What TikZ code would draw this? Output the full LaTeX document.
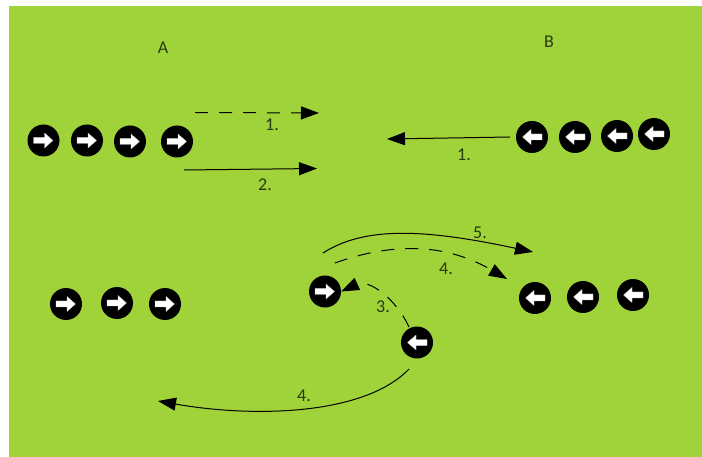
\documentclass[tikz,border=0pt]{standalone}
\usepackage{fontspec}
\setmainfont{Carlito}
\usetikzlibrary{arrows.meta}
\definecolor{field}{HTML}{A0D239}
\definecolor{labelc}{HTML}{2A3A10}
\tikzset{
  x=1pt,y=-1pt,
  playerbase/.style={circle,fill=black,minimum size=32pt,inner sep=0pt,outer sep=0pt},
  playerR/.style={playerbase,path picture={
    \fill[white,draw=white!75!black,line width=.3pt] ([shift={(-10pt,-3pt)}]path picture bounding box.center) -- ++(11pt,0) -- ++(0,-4.5pt) -- ++(8.5pt,7.5pt) -- ++(-8.5pt,7.5pt) -- ++(0,-4.5pt) -- ++(-11pt,0) -- cycle;}},
  playerL/.style={playerbase,path picture={
    \fill[white,draw=white!75!black,line width=.3pt] ([shift={(10pt,-3pt)}]path picture bounding box.center) -- ++(-11pt,0) -- ++(0,-4.5pt) -- ++(-8.5pt,7.5pt) -- ++(8.5pt,7.5pt) -- ++(0,-4.5pt) -- ++(11pt,0) -- cycle;}},
  run/.style={line width=1pt,black,-{Triangle[length=18pt,width=13pt]}},
  pass/.style={run,dash pattern=on 13pt off 11pt},
  lbl/.style={text=labelc,font=\fontsize{18pt}{20pt}\selectfont,inner sep=0pt},
}
\begin{document}
\begin{tikzpicture}
\useasboundingbox (0,0) rectangle (702,457);
\fill[white] (0,0) rectangle (702,457);
\fill[field] (9,6) rectangle (702,457);

\node[lbl] (teamA) at (163,48) {A};
\node[lbl] (teamB) at (549,42) {B};

\node[playerR] (a1) at (43.5,140.5) {};
\node[playerR] (a2) at (87,140.5) {};
\node[playerR] (a3) at (130,141.5) {};
\node[playerR] (a4) at (177,141.5) {};
\node[playerL] (b1) at (532,137) {};
\node[playerL] (b2) at (575,137) {};
\node[playerL] (b3) at (617,136) {};
\node[playerL] (b4) at (654,134) {};
\node[playerR] (c1) at (66,304) {};
\node[playerR] (c2) at (117,303) {};
\node[playerR] (c3) at (165,304) {};
\node[playerR] (c4) at (325,291.5) {};
\node[playerL] (d0) at (417,342.5) {};
\node[playerL] (d1) at (535,298) {};
\node[playerL] (d2) at (583,297) {};
\node[playerL] (d3) at (633,295) {};

\coordinate (p1s) at (195,112.5);
\coordinate (p1e) at (319,113);
\coordinate (p2s) at (184,170);
\coordinate (p2e) at (317,168.5);
\coordinate (p3s) at (510,137);
\coordinate (p3e) at (387,139);
\coordinate (p5s) at (323,253);
\coordinate (p5e) at (533,252);
\coordinate (p4s) at (335,263);
\coordinate (p4e) at (507,279);
\coordinate (p6s) at (409,369);
\coordinate (p6e) at (158,401);
\coordinate (p3b) at (409,327);

\draw[pass] (p1s) -- (p1e);
\draw[run] (p2s) -- (p2e);
\draw[run] (p3s) -- (p3e);
\draw[run] (p5s) .. controls (365,226) and (425,229) .. (p5e);
\draw[pass] (p4s) .. controls (385,245) and (440,240) .. (p4e);
\draw[pass] (p3b) .. controls (395,297) and (368,279) .. (c4.east);
\draw[run] (p6s) .. controls (365,415) and (255,418) .. (p6e);

\node[lbl] (l1) at (272,125) {1.};
\node[lbl] (l2) at (265,185) {2.};
\node[lbl] (l3) at (464,155) {1.};
\node[lbl] (l4) at (480,233) {5.};
\node[lbl] (l5) at (446,269) {4.};
\node[lbl] (l6) at (383,307) {3.};
\node[lbl] (l7) at (304,396) {4.};
\end{tikzpicture}
\end{document}
